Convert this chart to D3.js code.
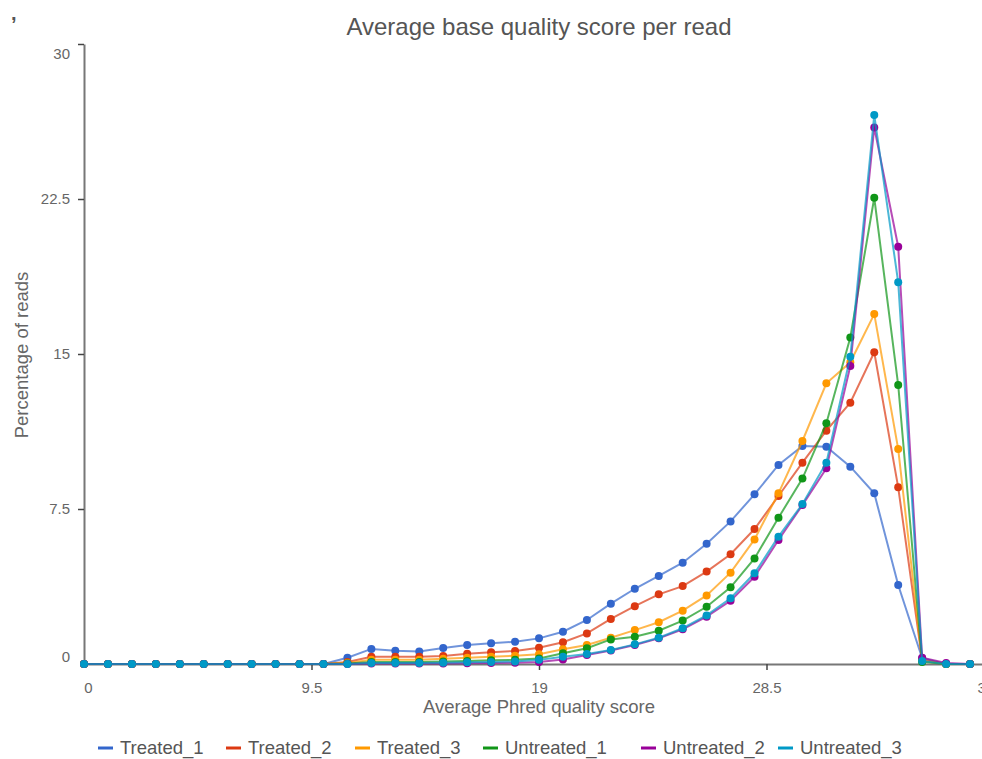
<!DOCTYPE html>
<html>
<head>
<meta charset="utf-8">
<script src="https://cdn.jsdelivr.net/npm/d3@7"></script>
<style>
body { margin:0; background:#fff; }
svg { font-family: "Liberation Sans", Arial, sans-serif; }
</style>
</head>
<body>
<svg id="chart"></svg>
<script>
// quality score histogram, six samples

var screen = {width:982, height:759}
var margins = {top:44, left:84, bottom:95}

var scores = d3.range(0, 38)
var seriesNames = ["Treated_1","Treated_2","Treated_3","Untreated_1","Untreated_2","Untreated_3"]
var seriesColors = ["#3366cc","#dc3912","#ff9900","#109618","#990099","#0099c6"]
var xTicks = [0, 9.5, 19, 28.5, 38]
var yTicks = [0, 7.5, 15, 22.5, 30]

var lowZeros = [0,0,0,0,0,0,0,0,0,0,0]

var treated1 = lowZeros.concat([0.3,0.73,0.64,0.61,0.77,0.92,1.0,1.08,1.24,1.56,2.13,2.92,3.64,4.26,4.9,5.82,6.9,8.21,9.63,10.55,10.51,9.55,8.26,3.82,0.28,0,0])
var treated2 = lowZeros.concat([0.1,0.35,0.35,0.35,0.39,0.5,0.57,0.63,0.79,1.05,1.48,2.18,2.8,3.37,3.77,4.47,5.31,6.53,8.13,9.74,11.29,12.64,15.08,8.55,0.2,0,0])
var treated3 = lowZeros.concat([0.05,0.2,0.2,0.2,0.25,0.3,0.35,0.4,0.47,0.71,0.92,1.27,1.64,2.02,2.58,3.32,4.42,6.03,8.26,10.79,13.58,14.6,16.93,10.4,0.15,0,0])
var untreated1 = lowZeros.concat([0.03,0.1,0.1,0.1,0.12,0.15,0.18,0.2,0.27,0.52,0.76,1.19,1.32,1.61,2.1,2.77,3.71,5.11,7.08,8.97,11.65,15.8,22.56,13.5,0.1,0,0])
var untreated2 = lowZeros.concat([0,0.02,0.02,0.02,0.03,0.04,0.05,0.06,0.1,0.22,0.44,0.65,0.92,1.24,1.68,2.29,3.06,4.22,6.0,7.69,9.47,14.42,25.96,20.19,0.3,0.05,0])
var untreated3 = lowZeros.concat([0,0.05,0.05,0.05,0.06,0.08,0.1,0.12,0.2,0.35,0.48,0.68,0.95,1.27,1.73,2.35,3.18,4.39,6.16,7.74,9.74,14.87,26.56,18.47,0.15,0,0])

var allSeries = [treated1, treated2, treated3, untreated1, untreated2, untreated3]

var svg = d3.select("#chart")
    .attr("width", screen.width)
    .attr("height", screen.height)

var xScale = d3.scaleLinear()
    .domain([0, 38])
    .range([margins.left, 994])

var yScale = d3.scaleLinear()
    .domain([0, 30])
    .range([screen.height - margins.bottom, margins.top])

// title + stray mark in the corner
svg.append("text")
    .attr("x", 539).attr("y", 35)
    .attr("text-anchor", "middle")
    .style("font-size", "24px").style("fill", "#555")
    .text("Average base quality score per read")

svg.append("text")
    .attr("x", 11).attr("y", 20)
    .style("font-size", "20px").style("font-weight", "bold").style("fill", "#555")
    .text(",")

// axes
var fmt = d3.format("~g")
var xAxis = d3.axisBottom(xScale).tickValues(xTicks).tickFormat(fmt).tickSize(6).tickSizeOuter(0)
var yAxis = d3.axisLeft(yScale).tickValues(yTicks).tickFormat(fmt).tickSize(6).tickSizeOuter(0)

var gx = svg.append("g")
    .attr("transform", "translate(0," + yScale(0) + ")")
    .call(xAxis)
var gy = svg.append("g")
    .attr("transform", "translate(" + margins.left + ",0)")
    .call(yAxis)

svg.selectAll(".domain").attr("stroke", "#777").attr("stroke-width", 2)
svg.selectAll(".tick line").attr("stroke", "#444").attr("stroke-width", 1.5)
svg.selectAll(".tick text").style("font-size", "15px").style("fill", "#666").attr("font-family", null)

gx.selectAll(".tick text").attr("y", 18)
gx.selectAll(".tick").filter(function(d){ return d == 0 }).select("text").attr("x", 4)
gx.selectAll(".tick").filter(function(d){ return d == 38 }).select("text")
    .attr("text-anchor", "start").attr("x", -17)
gx.selectAll(".tick").filter(function(d){ return d == 0 }).select("line").remove()

gy.selectAll(".tick text").attr("x", -14)
gy.selectAll(".tick").filter(function(d){ return d == 30 }).select("text").attr("dy", "0.95em")
gy.selectAll(".tick").filter(function(d){ return d == 0 }).select("text").attr("dy", "-0.2em")
gy.selectAll(".tick").filter(function(d){ return d == 0 }).select("line").remove()

// axis titles
svg.append("text")
    .attr("x", 539).attr("y", 713)
    .attr("text-anchor", "middle")
    .style("font-size", "18.5px").style("fill", "#666")
    .text("Average Phred quality score")

svg.append("text")
    .attr("transform", "translate(28,355) rotate(-90)")
    .attr("text-anchor", "middle")
    .style("font-size", "18.5px").style("fill", "#666")
    .text("Percentage of reads")

// lines and points
var line = d3.line()
    .x(function(d, i){ return xScale(scores[i]) })
    .y(function(d){ return yScale(d) })

var plot = svg.append("g").attr("id", "graph")

allSeries.forEach(function(values, s)
{
    plot.append("path")
        .datum(values)
        .attr("d", line)
        .attr("fill", "none")
        .attr("stroke", seriesColors[s])
        .attr("stroke-width", 2)
        .attr("stroke-opacity", 0.7)

    plot.selectAll(".pt" + s)
        .data(values)
        .enter()
        .append("circle")
        .attr("class", "pt" + s)
        .attr("cx", function(d, i){ return xScale(scores[i]) })
        .attr("cy", function(d){ return yScale(d) })
        .attr("r", 4)
        .attr("fill", seriesColors[s])
})

// legend
var legendX = [98, 226, 355, 483, 641, 778]
var legend = svg.append("g").attr("id", "legend")
    .selectAll("g")
    .data(seriesNames)
    .enter()
    .append("g")
    .attr("transform", function(d, i){ return "translate(" + legendX[i] + ",748)" })

legend.append("line")
    .attr("x1", 0).attr("x2", 15)
    .attr("y1", 0).attr("y2", 0)
    .attr("stroke", function(d, i){ return seriesColors[i] })
    .attr("stroke-width", 3)

legend.append("text")
    .attr("x", 22).attr("y", 6)
    .style("font-size", "18.5px").style("fill", "#555")
    .text(function(d){ return d })
</script>
</body>
</html>
